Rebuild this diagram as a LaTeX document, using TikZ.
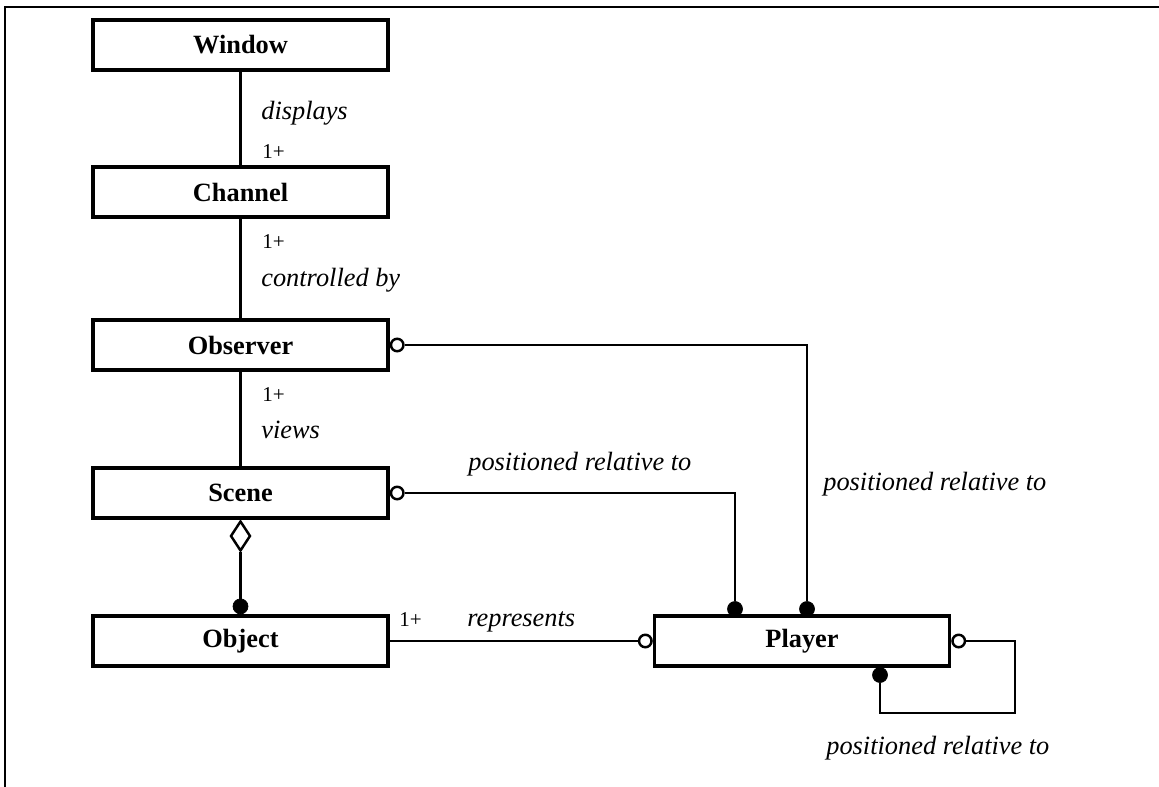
\documentclass[tikz,border=0pt]{standalone}
\usepackage{fontspec}
\setmainfont{Liberation Serif}
\usetikzlibrary{positioning,shapes.geometric}
\tikzset{
  every picture/.style={line join=miter},
  cls/.style={
    draw,
    line width=2pt,
    minimum width=5.9cm,
    minimum height=1.0cm,
    inner sep=0pt,
    font=\fontsize{15}{17}\selectfont\bfseries
  },
  link/.style={line width=1.4pt},
  opendot/.style={circle, draw, fill=white, line width=1.4pt, inner sep=0pt, minimum size=0.25cm},
  filldot/.style={circle, draw, fill=black, inner sep=0pt, minimum size=0.3cm},
  agg/.style={diamond, draw, fill=white, line width=1.4pt, inner sep=0pt, minimum width=0.4cm, minimum height=0.6cm},
  role/.style={anchor=west, inner sep=0pt, font=\fontsize{15}{17}\selectfont\itshape},
  mult/.style={anchor=west, inner sep=0pt, font=\fontsize{12}{14}\selectfont}
}
\begin{document}
\begin{tikzpicture}[x=0.02cm, y=-0.02cm]
  \useasboundingbox (0,0) rectangle (1159,787);
  % Frame
  \draw[line width=0.9pt] (5,787) -- (5,7) -- (1159,7);

  % Classes
  \node[cls] (window)   at (240.5,45)  {Window};
  \node[cls] (channel)  at (240.5,192) {Channel};
  \node[cls] (observer) at (240.5,345) {Observer};
  \node[cls] (scene)    at (240.5,493) {Scene};
  \node[cls] (object)   at (240.5,641) {Object};
  \node[cls] (player)   at (802,641)   {Player};

  % Vertical associations
  \draw[link] (window) -- (channel);
  \node[role] (lbldisp) at (261,113) {displays};
  \node[mult] (mdisp)   at (262,152) {1+};
  \draw[link] (channel) -- (observer);
  \node[mult] (mctrl)   at (262,242) {1+};
  \node[role] (lblctrl) at (261,280) {controlled by};
  \draw[link] (observer) -- (scene);
  \node[mult] (mview)   at (262,395) {1+};
  \node[role] (lblview) at (261,430) {views};

  % Aggregation Scene - Object
  \node[agg, below=0pt of scene] (sceneagg) {};
  \node[filldot, above=0pt of object] (objdot) {};
  \draw[link] (sceneagg.south) -- (objdot.north);

  % Object represents Player
  \node[opendot, left=0pt of player] (plleft) {};
  \draw[link] (object.east) -- (plleft.west);
  \node[mult] (mrep)   at (399,620) {1+};
  \node[role] (lblrep) at (467,622) {represents};

  % Scene / Observer positioned relative to Player
  \node[opendot, right=0pt of scene] (scdot) {};
  \node[filldot] (plscene) at (735,609) {};
  \draw[link] (scdot.east) -| (plscene.north);
  \node[role] (lblscene) at (468,464) {positioned relative to};

  \node[opendot, right=0pt of observer] (obsdot) {};
  \node[filldot] (plobs) at (807,609) {};
  \draw[link] (obsdot.east) -| (plobs.north);
  \node[role] (lblobs) at (823,484) {positioned relative to};

  % Player self loop
  \node[opendot, right=0pt of player] (plright) {};
  \node[filldot] (plbottom) at (880,675) {};
  \coordinate (loopcorner) at (1015,713);
  \draw[link] (plright.east) -| (loopcorner) -| (plbottom.south);
  \node[role] (lblloop) at (826,748) {positioned relative to};
\end{tikzpicture}
\end{document}
